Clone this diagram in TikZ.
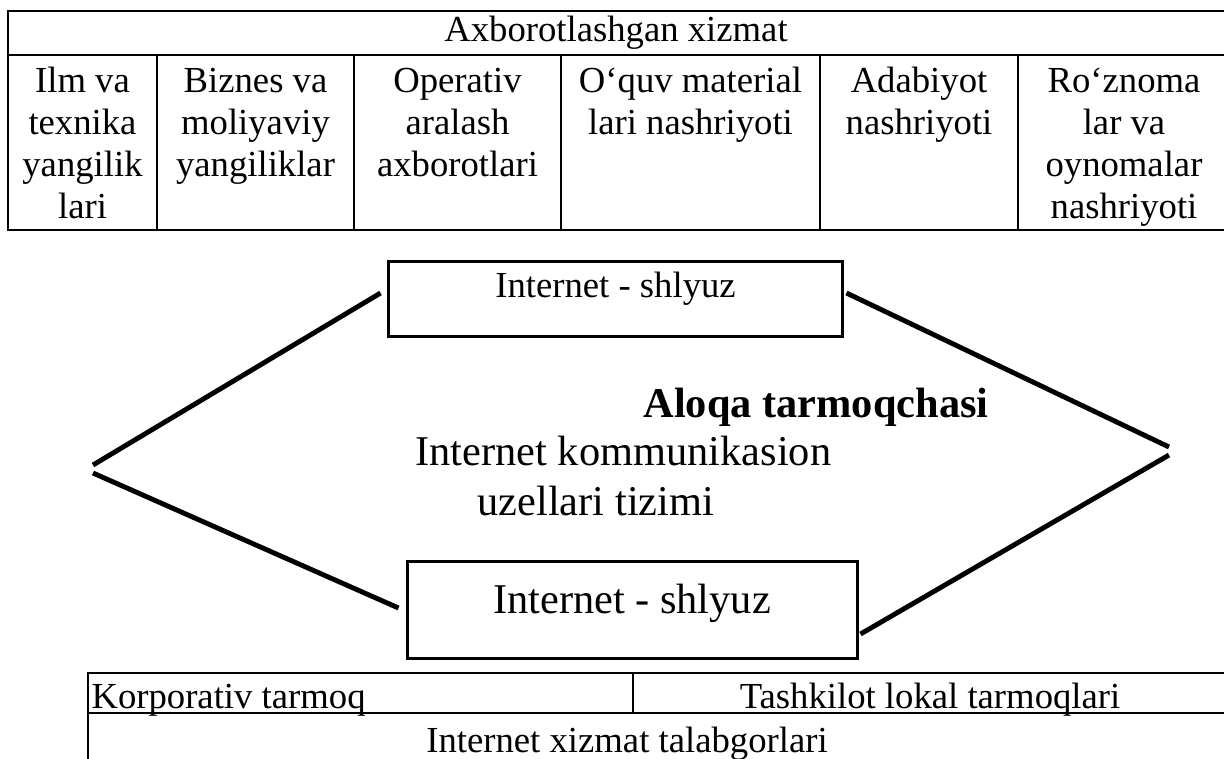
\documentclass[tikz,border=0pt]{standalone}
\usepackage{fontspec}
\setmainfont{Liberation Serif}
\usetikzlibrary{positioning}

\tikzset{
  cell/.style={anchor=north, align=center, inner sep=0pt, font=\fontsize{13.5}{15.5}\selectfont},
  gate/.style={draw, line width=1.1pt, inner xsep=0pt, inner ysep=0pt},
  link/.style={line width=1.8pt},
  grid/.style={line width=1pt},
  label/.style={anchor=base west, inner sep=0pt, font=\fontsize{15.6}{18}\selectfont}
}

\begin{document}
\begin{tikzpicture}[x=0.368pt, y=-0.368pt]
\useasboundingbox (0,0) rectangle (1224,758);

% Top table
\draw[grid] (1230,11) -- (8,11) -- (8,230) -- (1230,230);
\draw[grid] (8,55) -- (1230,55);
\foreach \x in {157,354,561,820,1018}
  \draw[grid] (\x,55) -- (\x,230);

\node[font=\fontsize{13.5}{15.5}\selectfont] (service) at (616,33) {Axborotlashgan xizmat};
\node[cell] (science) at (82.5,62.5) {\strut Ilm va\\texnika\\yangilik\\lari};
\node[cell] (business) at (255.5,62.5) {\strut Biznes va\\moliyaviy\\yangiliklar};
\node[cell] (operative) at (457.5,62.5) {\strut Operativ\\aralash\\axborotlari};
\node[cell] (textbook) at (690.5,62.5) {\strut O‘quv material\\lari nashriyoti};
\node[cell] (literature) at (919,62.5) {\strut Adabiyot\\nashriyoti};
\node[cell] (press) at (1124,62.5) {\strut Ro‘znoma\\lar va\\oynomalar\\nashriyoti};

% Gateways
\node[gate, minimum width=167.4pt, text height=13.6pt, text depth=14.35pt,
  font=\fontsize{13.5}{15.5}\selectfont] (gwtop) at (615.5,299) {Internet - shlyuz};
\node[gate, minimum width=165.6pt, text height=18.8pt, text depth=16.6pt,
  font=\fontsize{15.6}{18}\selectfont] (gwbot) at (632,610) {Internet - shlyuz};

% Communication network
\node[label, font=\fontsize{15.6}{18}\selectfont\bfseries] (net) at (643,417) {Aloqa tarmoqchasi};
\node[label] (nodes) at (415,465) {Internet kommunikasion};
\node[label] (system) at (477,515) {uzellari tizimi};

\coordinate (lvup) at (93,465);
\coordinate (lvlo) at (93,473);
\coordinate (rvup) at (1169,447);
\coordinate (rvlo) at (1169,455);

\draw[link] ([shift={(-6,-6)}]gwtop.west) -- (lvup);
\draw[link] (lvlo) -- ([shift={(-7,-2)}]gwbot.west);
\draw[link] ([shift={(2,-6)}]gwtop.east) -- (rvup);
\draw[link] (rvlo) -- ([shift={(2,24)}]gwbot.east);

% Bottom table
\draw[grid] (1230,673) -- (88,673) -- (88,770);
\draw[grid] (88,713) -- (1230,713);
\draw[grid] (633,673) -- (633,713);

\node[anchor=base west, inner sep=0pt, font=\fontsize{13.5}{15.5}\selectfont] (corp) at (91,708) {Korporativ tarmoq};
\node[anchor=base, inner sep=0pt, font=\fontsize{13.5}{15.5}\selectfont] (local) at (930,708) {Tashkilot lokal tarmoqlari};
\node[anchor=base, inner sep=0pt, font=\fontsize{13.5}{15.5}\selectfont] (users) at (627,752) {Internet xizmat talabgorlari};

\end{tikzpicture}
\end{document}
